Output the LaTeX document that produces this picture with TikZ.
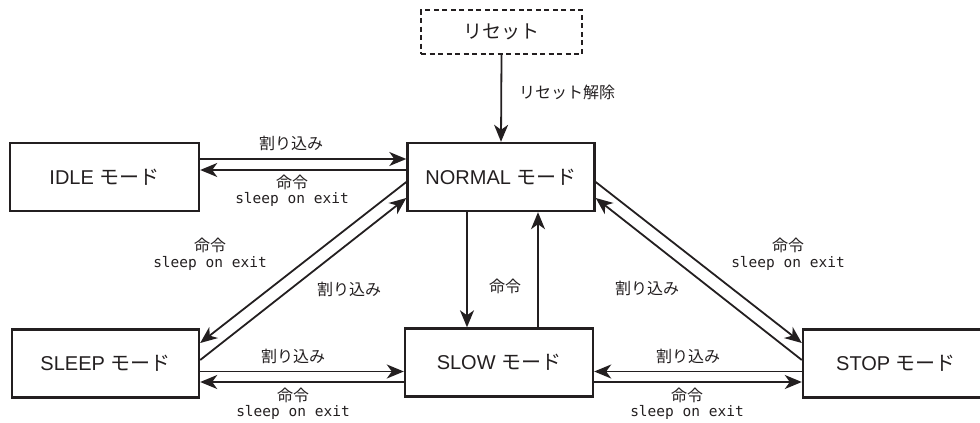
\documentclass[tikz,border=0pt]{standalone}
\usepackage{fontspec}
\setmainfont{Liberation Sans}
\newfontfamily\jp{Noto Sans CJK JP}
\newfontfamily\monof{DejaVu Sans Mono}
\usetikzlibrary{arrows.meta}
\definecolor{ink}{HTML}{231F20}
\newcommand\md[1]{#1\ {\jp モード}}
\begin{document}
\begin{tikzpicture}[x=1pt,y=-1pt,color=ink,
  box/.style={draw,line width=2.4pt,minimum width=#1,minimum height=68pt,inner sep=0pt,
    font=\fontsize{20}{20}\selectfont},
  arr/.style={line width=1.8pt,-{Stealth[length=17pt,width=14pt,inset=5pt]}},
  lab/.style={font=\jp\fontsize{16}{16}\selectfont,inner sep=0pt},
  mlab/.style={font=\monof\fontsize{14.5}{14.5}\selectfont,inner sep=0pt},
]
\useasboundingbox (0,0) rectangle (980,423);
\begin{scope}
\clip (0,0) rectangle (980,423);
% nodes
\node[draw,dash pattern=on 5pt off 3.5pt,line width=2.4pt,minimum width=161pt,minimum height=44pt,inner sep=0pt,font=\jp\fontsize{19}{19}\selectfont] (reset) at (501.5,32) {リセット};
\node[box=187pt] (normal) at (501,177) {\md{NORMAL}};
\node[box=189pt] (idle) at (104.5,177) {\md{IDLE}};
\node[box=187pt] (sleep) at (105.5,363.5) {\md{SLEEP}};
\node[box=188pt] (slow) at (499,362.5) {\md{SLOW}};
\node[box=186pt] (stop) at (896,363.5) {\md{STOP}};
\end{scope}
% helper coordinates
\coordinate (yA) at (0,159);
\coordinate (yB) at (0,170);
\coordinate (yC) at (0,371.5);
\coordinate (yD) at (0,382);
\coordinate (nL1) at (0,182);
\coordinate (nL2) at (0,198);
\coordinate (sL1) at (0,343);
\coordinate (sL2) at (0,360);
\coordinate (xV1) at (467,0);
\coordinate (xV2) at (538,0);
% reset
\draw[arr] (reset.south) -- (normal.north);
\node[lab,anchor=west] (rl) at (519,92) {リセット解除};
% idle <-> normal
\draw[arr] (idle.east |- yA) -- (normal.west |- yA);
\draw[arr] (normal.west |- yB) -- (idle.east |- yB);
\node[lab] (l1) at (291,143) {割り込み};
\node[lab] (l2) at (292,182) {命令};
\node[mlab] (l3) at (292,199) {sleep on exit};
% normal <-> sleep
\draw[arr] (normal.west |- nL1) -- (sleep.east |- sL1);
\draw[arr] (sleep.east |- sL2) -- (normal.west |- nL2);
\node[lab] (l4) at (210,245) {命令};
\node[mlab] (l5) at (210,263) {sleep on exit};
\node[lab] (l6) at (349,289) {割り込み};
% normal <-> slow
\draw[arr] (normal.south -| xV1) -- (slow.north -| xV1);
\draw[arr] (slow.north -| xV2) -- (normal.south -| xV2);
\node[lab] (l7) at (505,286) {命令};
% normal <-> stop
\draw[arr] (normal.east |- nL1) -- (stop.west |- sL1);
\draw[arr] (stop.west |- sL2) -- (normal.east |- nL2);
\node[lab] (l8) at (788,245) {命令};
\node[mlab] (l9) at (788,263) {sleep on exit};
\node[lab] (l10) at (647,288) {割り込み};
% sleep <-> slow
\draw[arr] (sleep.east |- yC) -- (slow.west |- yC);
\draw[arr] (slow.west |- yD) -- (sleep.east |- yD);
\node[lab] (l11) at (293,356) {割り込み};
\node[lab] (l12) at (293,395) {命令};
\node[mlab] (l13) at (293,412) {sleep on exit};
% slow <-> stop
\draw[arr] (stop.west |- yC) -- (slow.east |- yC);
\draw[arr] (slow.east |- yD) -- (stop.west |- yD);
\node[lab] (l14) at (688,356) {割り込み};
\node[lab] (l15) at (687,395) {命令};
\node[mlab] (l16) at (687,412) {sleep on exit};
\end{tikzpicture}
\end{document}
